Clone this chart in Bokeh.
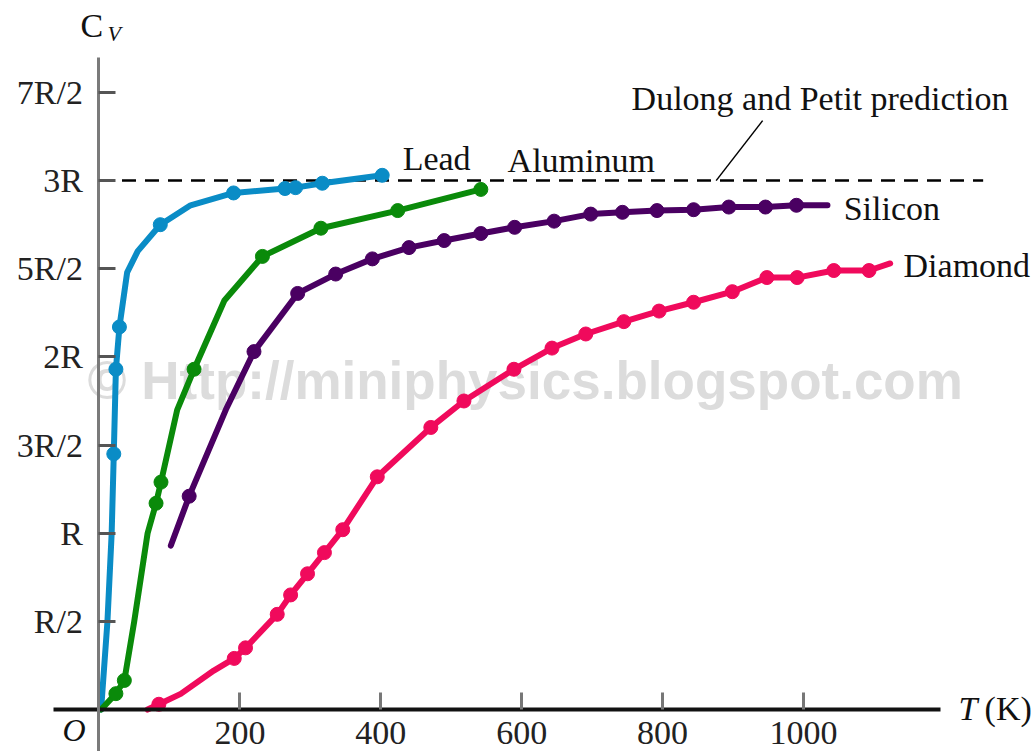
from bokeh.plotting import figure
from bokeh.models import Range1d, FixedTicker, Label
from bokeh.core.properties import value
from bokeh.embed import file_html
from bokeh.resources import INLINE

# ---- data (T in K, C_V in units of R) ----
lead_line_T = [3, 12, 18, 21, 24, 29, 40, 55, 87, 130, 191, 264, 279, 317, 402]
lead_line_C = [0.0, 0.5, 1.0, 1.45, 1.93, 2.17, 2.48, 2.60, 2.75, 2.86, 2.93, 2.955, 2.96, 2.985, 3.03]
lead_dot_T = [21, 24, 29, 87, 191, 264, 279, 317, 402]
lead_dot_C = [1.45, 1.93, 2.17, 2.75, 2.93, 2.955, 2.96, 2.985, 3.03]

al_line_T = [3, 24, 36, 50, 69, 81, 88, 111, 135, 178, 232, 315, 424, 542]
al_line_C = [0.0, 0.09, 0.165, 0.5, 1.0, 1.17, 1.29, 1.70, 1.93, 2.32, 2.57, 2.73, 2.83, 2.95]
al_dot_T = [24, 36, 81, 88, 135, 232, 315, 424, 542]
al_dot_C = [0.09, 0.165, 1.17, 1.29, 1.93, 2.57, 2.73, 2.83, 2.95]

si_line_T = [102, 128, 180, 220, 282, 336, 388, 440, 490, 542, 590, 646, 698, 743, 792, 844, 894, 946, 990, 1034]
si_line_C = [0.93, 1.21, 1.70, 2.03, 2.36, 2.47, 2.556, 2.62, 2.66, 2.70, 2.735, 2.77, 2.81, 2.82, 2.83, 2.835, 2.85, 2.85, 2.86, 2.86]
si_dot_T = [128, 220, 282, 336, 388, 440, 490, 542, 590, 646, 698, 743, 792, 844, 894, 946, 990]
si_dot_C = [1.21, 2.03, 2.36, 2.47, 2.556, 2.62, 2.66, 2.70, 2.735, 2.77, 2.81, 2.82, 2.83, 2.835, 2.85, 2.85, 2.86]

dia_line_T = [69, 85, 116, 163, 192, 208, 253, 272, 296, 320, 346, 395, 471, 518, 589, 643, 691, 745, 795, 844, 899, 948, 991, 1043, 1093, 1123]
dia_line_C = [0.0, 0.03, 0.089, 0.221, 0.29, 0.35, 0.54, 0.65, 0.77, 0.89, 1.02, 1.32, 1.60, 1.75, 1.93, 2.05, 2.13, 2.20, 2.26, 2.31, 2.37, 2.45, 2.45, 2.49, 2.49, 2.53]
dia_dot_T = [85, 192, 208, 253, 272, 296, 320, 346, 395, 471, 518, 589, 643, 691, 745, 795, 844, 899, 948, 991, 1043, 1093]
dia_dot_C = [0.03, 0.29, 0.35, 0.54, 0.65, 0.77, 0.89, 1.02, 1.32, 1.60, 1.75, 1.93, 2.05, 2.13, 2.20, 2.26, 2.31, 2.37, 2.45, 2.45, 2.49, 2.49]

dulong_T = [0, 1255]
dulong_C = [3.0, 3.0]
leader_T = [876, 942]
leader_C = [3.0, 3.34]

x_ticks = [200, 400, 600, 800, 1000]
y_ticks = [0.5, 1.0, 1.5, 2.0, 2.5, 3.0, 3.5]
y_tick_labels = ["R/2", "R", "3R/2", "2R", "5R/2", "3R", "7R/2"]

LEAD = "#0a8cc6"
ALUM = "#0a8a0a"
SILI = "#4a0062"
DIAM = "#f00a5c"
SERIF = "Liberation Serif"
FS = "34px"

p = figure(width=1035, height=751, output_backend="svg", toolbar_location=None,
           x_range=Range1d(-139.8, 1329.3), y_range=Range1d(-0.238, 4.0215),
           min_border=0)
p.outline_line_color = None
p.xgrid.visible = False
p.ygrid.visible = False
p.background_fill_color = "white"
p.border_fill_color = "white"

# watermark (behind)
p.text(x=[605], y=[1.866], text=["\u00a9 Http://miniphysics.blogspot.com"],
       text_font=value("Liberation Sans"), text_font_style="bold", text_font_size="53px",
       text_color="#dcdcdc", text_align="center", text_baseline="middle")

# Dulong-Petit line
p.line(dulong_T, dulong_C, line_color="black", line_width=2.5, line_dash="14 9")
p.line(leader_T, leader_C, line_color="black", line_width=1.5)

for lt, lc, dt, dc, col in [(lead_line_T, lead_line_C, lead_dot_T, lead_dot_C, LEAD),
                             (al_line_T, al_line_C, al_dot_T, al_dot_C, ALUM),
                             (si_line_T, si_line_C, si_dot_T, si_dot_C, SILI),
                             (dia_line_T, dia_line_C, dia_dot_T, dia_dot_C, DIAM)]:
    p.line(lt, lc, line_color=col, line_width=6, line_join="round", line_cap="round")
    p.scatter(dt, dc, size=14, fill_color=col, line_color=col)

# axes crossing at the origin
xa = p.xaxis[0]
xa.fixed_location = 0
xa.ticker = FixedTicker(ticks=x_ticks)
xa.bounds = (-65, 1194)
xa.axis_line_color = "#111111"
xa.axis_line_width = 4
xa.major_tick_in = 17
xa.major_tick_out = 0
xa.major_tick_line_color = "#777777"
xa.major_tick_line_width = 3
xa.minor_tick_line_color = None
xa.major_label_text_font = SERIF
xa.major_label_text_font_size = FS
xa.major_label_text_color = "#222222"
xa.major_label_standoff = 12

ya = p.yaxis[0]
ya.fixed_location = 0
ya.ticker = FixedTicker(ticks=y_ticks)
ya.major_label_overrides = {t: s for t, s in zip(y_ticks, y_tick_labels)}
ya.bounds = (-0.238, 3.698)
ya.axis_line_color = "#7a7a7a"
ya.axis_line_width = 3
ya.major_tick_in = 17
ya.major_tick_out = 0
ya.major_tick_line_color = "#555555"
ya.major_tick_line_width = 3
ya.minor_tick_line_color = None
ya.major_label_text_font = SERIF
ya.major_label_text_font_size = FS
ya.major_label_text_color = "#222222"
ya.major_label_standoff = 16

def lab(x, y, t, size=FS, style="normal", align="left", base="alphabetic"):
    p.add_layout(Label(x=x, y=y, text=t, text_font=SERIF, text_font_size=size,
                       text_font_style=style, text_align=align, text_baseline=base,
                       text_color="#111111"))

lab(431, 3.125, "Lead")
lab(580, 3.114, "Aluminum")
lab(756, 3.466, "Dulong and Petit prediction")
lab(1057, 2.842, "Silicon")
lab(1142, 2.518, "Diamond")
lab(1220, 0.006, "T", style="italic")
lab(1257, 0.006, "(K)")
lab(-51.8, -0.118, "O", size="32px", style="italic")
lab(-26.3, 3.878, "C")
lab(12, 3.837, "V", size="22px", style="italic")

open("out.html", "w").write(file_html(p, INLINE))
